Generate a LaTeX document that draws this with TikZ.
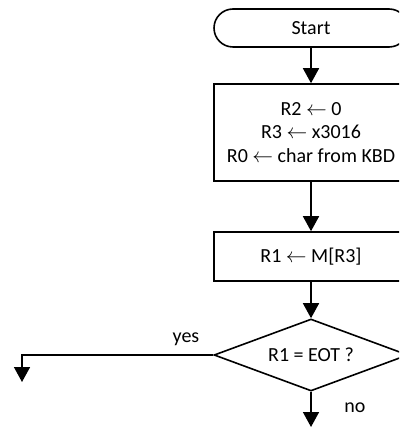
\documentclass[tikz,border=0pt]{standalone}
\usepackage{fontspec}
\setmainfont{Carlito}
\usetikzlibrary{arrows.meta,shapes.misc,shapes.geometric}
\newcommand{\getsarrow}{\ensuremath{\leftarrow}}
\begin{document}
\begin{tikzpicture}[x=1pt,y=-1pt,line width=1.6pt,
    font=\fontsize{20}{23.5}\selectfont,
    flow/.style={-{Triangle[length=15pt,width=16pt]}},
    terminal/.style={draw,rounded rectangle,minimum width=194pt,minimum height=38pt,inner sep=0pt},
    action/.style={draw,rectangle,minimum width=194pt,align=center,inner sep=0pt},
    decision/.style={draw,diamond,aspect=2.7,minimum width=194pt,minimum height=72pt,inner sep=0pt}]
        % Frame
        \clip (0,0) rectangle (399,427);
        \useasboundingbox (0,0) rectangle (399,427);
        % Boxes
        \node[terminal] (start) at (311,28) {Start};
        \node[action,minimum height=97pt] (init) at (311,132.5) {R2 \getsarrow{} 0\\R3 \getsarrow{} x3016\\R0 \getsarrow{} char from KBD};
        \node[action,minimum height=49pt] (load) at (311,256.5) {R1 \getsarrow{} M[R3]};
        \node[decision] (test) at (311,355) {R1 = EOT ?};
        % Free ends
        \coordinate (yesend) at (22,382);
        \coordinate (noend) at (311,427);
        % Arrows
        \draw[flow] (start) -- (init);
        \draw[flow] (init) -- (load);
        \draw[flow] (load) -- (test);
        \draw[flow] (test.west) -| (yesend);
        \draw[flow] (test.south) -- (noend);
        % Labels
        \node (yes) at (186,339) {yes};
        \node (no) at (355,408) {no};
      \end{tikzpicture}
\end{document}
